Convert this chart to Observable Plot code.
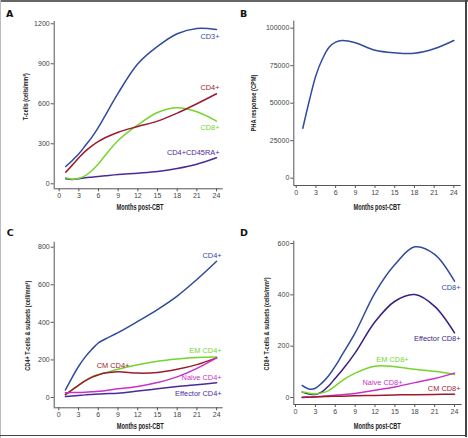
<!DOCTYPE html>
<html><head><meta charset="utf-8">
<script src="https://cdn.jsdelivr.net/npm/d3@7"></script>
<script src="https://cdn.jsdelivr.net/npm/@observablehq/plot@0.6"></script>
<style>
body{margin:0;background:#fff;}
#fig{position:relative;width:468px;height:438px;overflow:hidden;background:#fff;}
.panel{position:absolute;}
.edge{position:absolute;background:#555;}
#overlay{position:absolute;left:0;top:0;pointer-events:none;}
</style>
</head><body>
<div id="fig">
  <div class="panel" id="pA" style="left:0;top:0"></div>
  <div class="panel" id="pB" style="left:234px;top:0"></div>
  <div class="panel" id="pC" style="left:0;top:219px"></div>
  <div class="panel" id="pD" style="left:234px;top:219px"></div>
  <div class="edge" style="left:0;top:0;width:468px;height:2px;background:#666"></div>
  <div class="edge" style="left:0;top:0;width:1px;height:438px;background:#bbb"></div>
  <div class="edge" style="left:465px;top:0;width:2px;height:437px;background:#444"></div>
  <div class="edge" style="left:0;top:435px;width:467px;height:1px;background:#444"></div>
  <svg id="overlay" width="468" height="438"></svg>
</div>
<script>
// ---- data ----
const months = [1, 2, 3, 4, 5, 6, 7, 9, 12, 15, 18, 21, 24];
const monthTicks = [0, 3, 6, 9, 12, 15, 18, 21, 24];

// Panel A: T-cells (cells/mm3)
const aCD3 = [130, 175, 225, 287, 350, 425, 510, 680, 900, 1030, 1125, 1165, 1157];
const aCD4 = [87, 140, 195, 245, 285, 318, 345, 387, 430, 470, 530, 600, 675];
const aCD8 = [45, 35, 42, 62, 100, 150, 212, 325, 442, 535, 570, 540, 470];
const aCD45RA = [37, 33, 38, 45, 50, 55, 60, 70, 80, 92, 115, 147, 195];
const aTicks = [0, 300, 600, 900, 1200];

// Panel B: PHA response (CPM)
const bPHA = [33300, 51800, 68500, 79600, 87300, 90700, 91800, 90300, 85300, 83600, 83300, 86300, 91800];
const bTicks = [0, 25000, 50000, 75000, 100000];

// Panel C: CD4+ T-cells & subsets
const cCD4 = [40, 105, 165, 215, 255, 290, 310, 345, 405, 468, 540, 628, 725];
const cEM = [15, 40, 65, 90, 110, 122, 130, 150, 174, 193, 205, 213, 215];
const cCM = [15, 40, 65, 88, 107, 120, 130, 137, 130, 133, 150, 175, 211];
const cNaive = [25, 26, 27, 28, 30, 33, 36, 46, 59, 80, 110, 155, 211];
const cEff = [5, 8, 11, 14, 16, 18, 20, 23, 34, 46, 58, 68, 78];
const cTicks = [0, 200, 400, 600, 800];

// Panel D: CD8+ T-cells & subsets
const dCD8 = [47, 33, 36, 57, 85, 122, 165, 252, 408, 518, 587, 558, 453];
const dEff = [21, 14, 12, 22, 45, 75, 105, 174, 295, 375, 401, 355, 252];
const dEM = [21, 17, 14, 18, 27, 45, 65, 95, 122, 120, 110, 102, 90];
const dNaive = [1, 2, 3, 5, 7, 9, 11, 16, 28, 41, 58, 74, 95];
const dCM = [0, 1, 2, 3, 4, 5, 5, 7, 8, 10, 11, 12, 13];
const dTicks = [0, 200, 400, 600];

// ---- styles ----
const BLUE = "#2f4b9c", RED = "#9b1b30", GREEN = "#74d52e", PURPLE = "#4a2a9a",
      MAGENTA = "#c930c9", DPURPLE = "#3a1f80";

function panel(cfg) {
  const marks = [
    Plot.ruleX([cfg.xDomain[0]], {stroke: "#555", strokeWidth: 1}),
    Plot.ruleY([cfg.yDomain[0]], {stroke: "#555", strokeWidth: 1}),
    Plot.axisX({ticks: monthTicks, tickSize: 3, tickPadding: 1.5, label: null, tickFormat: d3.format("d"), fill: "#444"}),
    Plot.axisY({ticks: cfg.yTicks, tickSize: 3, tickPadding: 1.5, label: null, tickFormat: d3.format("d"), fill: "#444"})
  ];
  for (const s of cfg.series) {
    const rows = months.map((m, i) => ({m, v: s.values[i]}));
    marks.push(Plot.line(rows, {x: "m", y: "v", stroke: s.color, strokeWidth: 1.5, curve: "catmull-rom"}));
  }
  for (const s of cfg.series) {
    if (!s.label) continue;
    const i = s.at ?? months.length - 1;
    marks.push(Plot.text([{m: months[i], v: s.values[i]}], {
      x: "m", y: "v", text: () => s.label, fill: s.color, fontSize: 7.4,
      textAnchor: s.anchor ?? "end", dx: s.dx, dy: s.dy
    }));
  }
  return Plot.plot({
    width: 234, height: 219,
    marginLeft: cfg.m[0], marginRight: cfg.m[1], marginTop: cfg.m[2], marginBottom: cfg.m[3],
    x: {domain: cfg.xDomain, axis: null},
    y: {domain: cfg.yDomain, axis: null},
    style: {fontFamily: "'Liberation Sans', Arial, sans-serif", fontSize: "7px", color: "#555", background: "transparent", overflow: "visible"},
    marks
  });
}

document.getElementById("pA").append(panel({
  m: [53.7, 11.3, 21, 30.7], xDomain: [-0.76, 25.02], yDomain: [-37.5, 1217], yTicks: aTicks,
  series: [
    {values: aCD45RA, color: PURPLE, label: "CD4+CD45RA+", dx: 3, dy: -5.6},
    {values: aCD8, color: GREEN, label: "CD8+", dx: 3, dy: 7},
    {values: aCD4, color: RED, label: "CD4+", dx: 3, dy: -6.6},
    {values: aCD3, color: BLUE, label: "CD3+", dx: 3, dy: 7}
  ]
}));

document.getElementById("pB").append(panel({
  m: [59.3, 7.3, 20.7, 34], xDomain: [-0.37, 25.12], yDomain: [-4867, 104667], yTicks: bTicks,
  series: [{values: bPHA, color: BLUE}]
}));

document.getElementById("pC").append(panel({
  m: [53.7, 11.3, 22.7, 30.7], xDomain: [-0.7, 25.0], yDomain: [-54.8, 826.6], yTicks: cTicks,
  series: [
    {values: cCD4, color: BLUE, label: "CD4+", dx: 5, dy: -6},
    {values: cEM, color: GREEN, label: "EM CD4+", dx: 5, dy: -6.4},
    {values: cCM, color: RED, label: "CM CD4+", at: 7, anchor: "middle", dx: -5, dy: -6.6},
    {values: cNaive, color: MAGENTA, label: "Naive CD4+", dx: 5, dy: 20},
    {values: cEff, color: PURPLE, label: "Effector CD4+", dx: 5, dy: 10.4}
  ]
}));

document.getElementById("pD").append(panel({
  m: [59.3, 6.3, 21.7, 34], xDomain: [-0.26, 25.16], yDomain: [-27.3, 609], yTicks: dTicks,
  series: [
    {values: dCD8, color: BLUE, label: "CD8+", dx: 6, dy: 6},
    {values: dEff, color: DPURPLE, label: "Effector CD8+", dx: 6, dy: 6},
    {values: dEM, color: GREEN, label: "EM CD8+", at: 9, anchor: "middle", dx: -2.4, dy: -7.2},
    {values: dNaive, color: MAGENTA, label: "Naive CD8+", at: 9, anchor: "middle", dx: -12.4, dy: -4.8},
    {values: dCM, color: RED, label: "CM CD8+", dx: 6, dy: -5.4}
  ]
}));

// ---- panel letters and axis titles ----
const letters = [["A", 6, 16.7], ["B", 240, 16.7], ["C", 6.7, 236], ["D", 240, 235.7]];
const xTitles = [[140, 206.7], [377, 206.7], [140.3, 425.7], [377.3, 425.7]];
const yTitles = [
  ["T-cells (cells/mm³)", 25.5, 96.7, 47],
  ["PHA response (CPM)", 253.7, 103, 57],
  ["CD4+ T-cells & subsets (cell/mm³)", 27.8, 325.7, 90],
  ["CD8+ T-cells & subsets (cells/mm³)", 266.3, 324, 93]
];
const ov = d3.select("#overlay");
for (const [t, x, y] of letters) {
  ov.append("text").attr("x", x).attr("y", y).text(t)
    .attr("font-family", "'DejaVu Sans', sans-serif").attr("font-weight", "bold").attr("font-size", 9.5).attr("fill", "#111");
}
for (const [x, y] of xTitles) {
  ov.append("text").attr("x", x).attr("y", y).attr("dy", "0.35em").attr("text-anchor", "middle")
    .attr("textLength", 47).attr("lengthAdjust", "spacingAndGlyphs")
    .attr("font-family", "'Liberation Sans Narrow', 'Liberation Sans', sans-serif").attr("font-weight", "bold")
    .attr("font-size", 8.3).attr("fill", "#222").text("Months post-CBT");
}
for (const [t, x, y, len] of yTitles) {
  ov.append("text").attr("transform", `translate(${x},${y}) rotate(-90)`).attr("dy", "0.35em")
    .attr("text-anchor", "middle").attr("textLength", len).attr("lengthAdjust", "spacingAndGlyphs")
    .attr("font-family", "'Liberation Sans Narrow', 'Liberation Sans', sans-serif").attr("font-weight", "bold")
    .attr("font-size", 7.6).attr("fill", "#222").text(t);
}
</script>
</body></html>
